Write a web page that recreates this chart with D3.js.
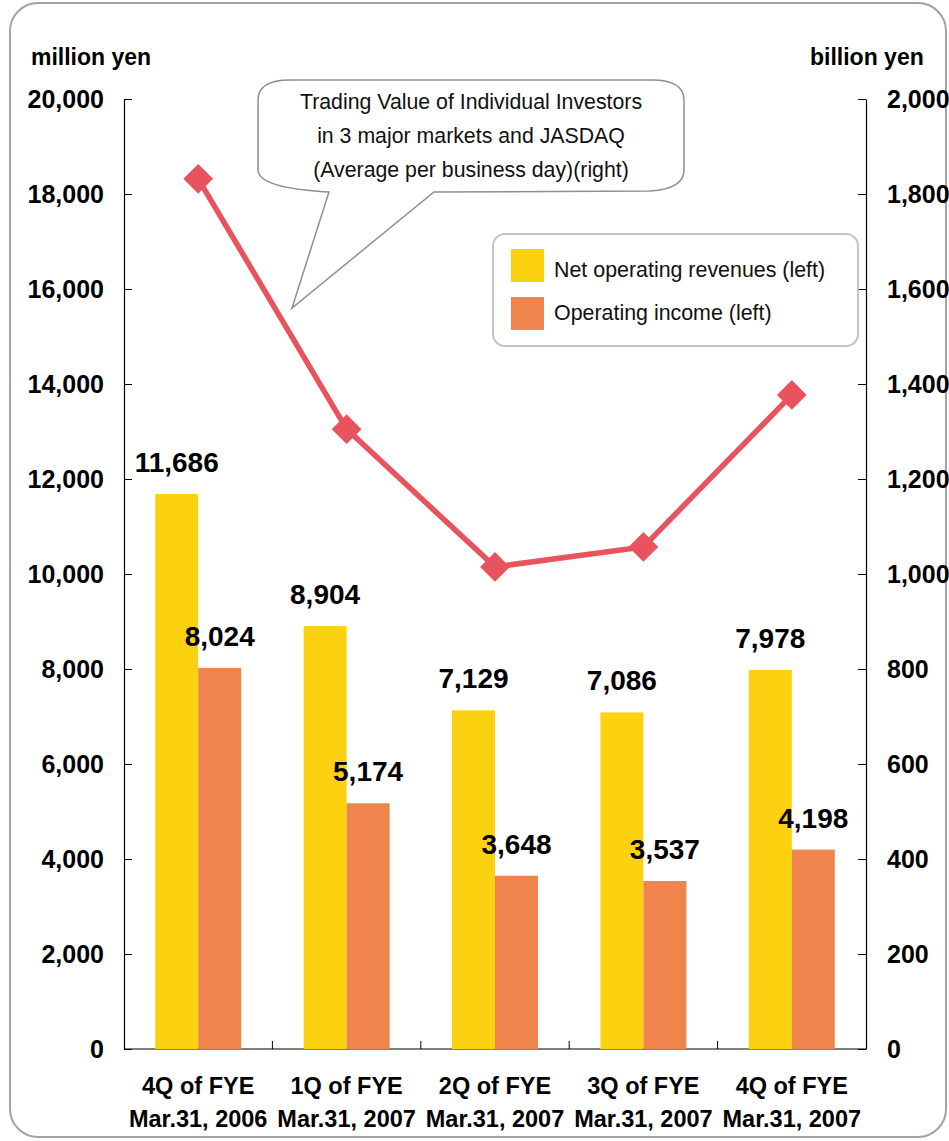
<!DOCTYPE html>
<html>
<head>
<meta charset="utf-8">
<script src="https://cdn.jsdelivr.net/npm/d3@7"></script>
<style>
  html, body { margin: 0; padding: 0; background: #fff; }
  svg { display: block; font-family: "Liberation Sans", Arial, Helvetica, sans-serif; }
</style>
</head>
<body>
<svg id="chart" width="949" height="1141"></svg>
<script>
// Quarterly results (million yen) and individual trading value (billion yen)
const quarters = [
  ["4Q of FYE", "Mar.31, 2006"],
  ["1Q of FYE", "Mar.31, 2007"],
  ["2Q of FYE", "Mar.31, 2007"],
  ["3Q of FYE", "Mar.31, 2007"],
  ["4Q of FYE", "Mar.31, 2007"]
];
const netRevenues = [11686, 8904, 7129, 7086, 7978];
const operatingIncome = [8024, 5174, 3648, 3537, 4198];
const tradingValue = [1832, 1305, 1015, 1057, 1377];

const leftTicks = [0, 2000, 4000, 6000, 8000, 10000, 12000, 14000, 16000, 18000, 20000];
const rightTicks = [0, 200, 400, 600, 800, 1000, 1200, 1400, 1600, 1800, 2000];

const seriesNames = ["Net operating revenues (left)", "Operating income (left)"];
const calloutLines = [
  "Trading Value of Individual Investors",
  "in 3 major markets and JASDAQ",
  "(Average per business day)(right)"
];

const colors = { rev: "#FCD10F", inc: "#EF844C", line: "#E8535D" };

const svg = d3.select("#chart");
const fmt = d3.format(",");

// Plot area bounds
const plotL = 124, plotR = 866, plotT = 99, plotB = 1049;

const x0 = d3.scaleBand().domain(d3.range(quarters.length)).range([plotL, plotR]).padding(0);
const x1 = d3.scaleBand().domain(["rev", "inc"]).range([0, x0.bandwidth()])
  .paddingInner(0).paddingOuter(0.7256);
const yL = d3.scaleLinear().domain([0, 20000]).range([plotB, plotT]);
const yR = d3.scaleLinear().domain([0, 2000]).range([plotB, plotT]);

// Outer frame
svg.append("rect")
  .attr("x", 10).attr("y", 3).attr("width", 936).attr("height", 1134)
  .attr("rx", 28).attr("ry", 28)
  .attr("fill", "#fff").attr("stroke", "#a3a3a3").attr("stroke-width", 2);

// Axis unit titles
svg.append("text").attr("x", 31).attr("y", 65)
  .attr("font-size", 23).attr("font-weight", "bold").text("million yen");
svg.append("text").attr("x", 810).attr("y", 65)
  .attr("font-size", 23).attr("font-weight", "bold").text("billion yen");

// Left axis
const axL = svg.append("g").attr("transform", `translate(${plotL},0)`)
  .call(d3.axisLeft(yL).tickValues(leftTicks).tickFormat(fmt).tickSizeInner(-8).tickSizeOuter(0).tickPadding(20));
axL.select(".domain").attr("stroke", "#000").attr("stroke-width", 1.2);
axL.selectAll(".tick line").attr("stroke", "#000");
axL.selectAll("text").attr("font-size", 25).attr("font-weight", "bold")
  .attr("fill", "#000").attr("font-family", "'Liberation Sans', Arial, sans-serif");

// Right axis
const axR = svg.append("g").attr("transform", `translate(${plotR},0)`)
  .call(d3.axisRight(yR).tickValues(rightTicks).tickFormat(fmt).tickSizeInner(-8).tickSizeOuter(0).tickPadding(21));
axR.select(".domain").attr("stroke", "#000").attr("stroke-width", 1.2);
axR.selectAll(".tick line").attr("stroke", "#000");
axR.selectAll("text").attr("font-size", 25).attr("font-weight", "bold")
  .attr("fill", "#000").attr("font-family", "'Liberation Sans', Arial, sans-serif");

// Bottom axis: baseline with small upward ticks between quarters
svg.append("line").attr("x1", plotL).attr("x2", plotR).attr("y1", plotB).attr("y2", plotB)
  .attr("stroke", "#000").attr("stroke-width", 1.2);
svg.append("g").selectAll("line")
  .data(d3.range(1, quarters.length))
  .join("line")
  .attr("x1", i => x0(i)).attr("x2", i => x0(i))
  .attr("y1", plotB).attr("y2", plotB - 8)
  .attr("stroke", "#000");

// Category labels
const cat = svg.append("g").selectAll("text")
  .data(quarters)
  .join("text")
  .attr("text-anchor", "middle")
  .attr("font-size", 23.5).attr("font-weight", "bold");
cat.append("tspan").attr("x", (d, i) => x0(i) + x0.bandwidth() / 2).attr("y", 1094).text(d => d[0]);
cat.append("tspan").attr("x", (d, i) => x0(i) + x0.bandwidth() / 2).attr("y", 1127).text(d => d[1]);

// Bars
const barData = [];
netRevenues.forEach((v, i) => barData.push({ i, key: "rev", v }));
operatingIncome.forEach((v, i) => barData.push({ i, key: "inc", v }));

svg.append("g").selectAll("rect")
  .data(barData)
  .join("rect")
  .attr("x", d => x0(d.i) + x1(d.key))
  .attr("width", x1.bandwidth())
  .attr("y", d => yL(d.v))
  .attr("height", d => yL(0) - yL(d.v))
  .attr("fill", d => colors[d.key]);

// Callout bubble for the trading value line
svg.append("path")
  .attr("d", "M290,80 L652,80 Q684,80 684,100 L684,170 Q684,189 650,191 L434,192 L292,308 L329,192 Q258,188 258,170 L258,100 Q258,80 290,80 Z")
  .attr("fill", "#fff").attr("stroke", "#8f8f8f").attr("stroke-width", 1.5);
svg.append("g").selectAll("text")
  .data(calloutLines)
  .join("text")
  .attr("x", 471).attr("y", (d, i) => 109 + i * 34)
  .attr("text-anchor", "middle").attr("font-size", 21.3).attr("fill", "#111")
  .text(d => d);

// Trading value line (right axis)
const cx = i => x0(i) + x0.bandwidth() / 2;
svg.append("path")
  .datum(tradingValue)
  .attr("d", d3.line().x((d, i) => cx(i)).y(d => yR(d)))
  .attr("fill", "none").attr("stroke", colors.line).attr("stroke-width", 5.5);
svg.append("g").selectAll("path")
  .data(tradingValue)
  .join("path")
  .attr("d", d3.symbol(d3.symbolSquare, 441))
  .attr("transform", (d, i) => `translate(${cx(i)},${yR(d)}) rotate(45)`)
  .attr("fill", colors.line);

// Value labels above bars
svg.append("g").selectAll("text")
  .data(barData)
  .join("text")
  .attr("x", d => x0(d.i) + x1(d.key) + x1.bandwidth() / 2)
  .attr("y", d => yL(d.v) - 22)
  .attr("text-anchor", "middle")
  .attr("font-size", 28).attr("font-weight", "bold").attr("fill", "#000")
  .text(d => fmt(d.v));

// Legend
const lg = svg.append("g");
lg.append("rect").attr("x", 493).attr("y", 234).attr("width", 365).attr("height", 112)
  .attr("rx", 12).attr("ry", 12)
  .attr("fill", "#fff").attr("stroke", "#c4c4c4").attr("stroke-width", 2);
const legendItems = [
  { key: "rev", name: seriesNames[0], boxY: 249, textY: 277 },
  { key: "inc", name: seriesNames[1], boxY: 297, textY: 320 }
];
lg.selectAll("rect.swatch")
  .data(legendItems)
  .join("rect").attr("class", "swatch")
  .attr("x", 511).attr("y", d => d.boxY)
  .attr("width", 33).attr("height", 33).attr("fill", d => colors[d.key]);
lg.selectAll("text")
  .data(legendItems)
  .join("text")
  .attr("x", 554).attr("y", d => d.textY)
  .attr("font-size", 21.4).attr("fill", "#111").text(d => d.name);
</script>
</body>
</html>
